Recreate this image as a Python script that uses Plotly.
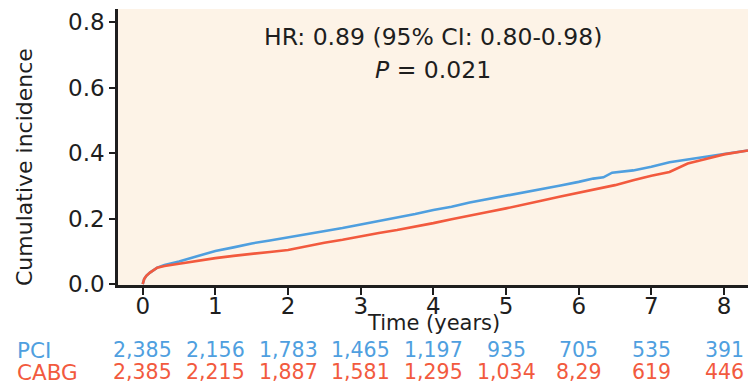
import plotly.graph_objects as go

# Cumulative incidence curves
pci_time = [0, 0.02, 0.05, 0.1, 0.2, 0.3, 0.5, 0.75, 1.0, 1.25, 1.5, 1.75, 2.0, 2.25, 2.5, 2.75,
            3.0, 3.25, 3.5, 3.75, 4.0, 4.25, 4.5, 4.75, 5.0, 5.25, 5.5, 5.75, 6.0, 6.2, 6.34,
            6.46, 6.75, 7.0, 7.25, 7.5, 7.75, 8.0, 8.33]
pci_cum = [0, 0.015, 0.025, 0.035, 0.050, 0.058, 0.069, 0.086, 0.101, 0.112, 0.124, 0.133, 0.142,
           0.151, 0.160, 0.171, 0.182, 0.192, 0.202, 0.214, 0.226, 0.236, 0.249, 0.259, 0.269,
           0.280, 0.291, 0.301, 0.312, 0.322, 0.326, 0.340, 0.347, 0.358, 0.372, 0.381, 0.389,
           0.397, 0.408]

cabg_time = [0, 0.02, 0.05, 0.1, 0.2, 0.3, 0.5, 0.75, 1.0, 1.25, 1.5, 1.75, 2.0, 2.25, 2.5, 2.75,
             3.0, 3.25, 3.5, 3.75, 4.0, 4.25, 4.5, 4.75, 5.0, 5.25, 5.5, 5.75, 6.0, 6.25, 6.5,
             6.75, 7.0, 7.25, 7.35, 7.5, 7.75, 8.0, 8.33]
cabg_cum = [0, 0.015, 0.025, 0.035, 0.050, 0.055, 0.062, 0.071, 0.079, 0.086, 0.093, 0.098, 0.104,
            0.116, 0.126, 0.135, 0.146, 0.156, 0.165, 0.175, 0.186, 0.198, 0.210, 0.220, 0.231,
            0.244, 0.255, 0.267, 0.278, 0.290, 0.302, 0.317, 0.331, 0.342, 0.352, 0.368, 0.382,
            0.396, 0.408]

# Numbers at risk
risk_times = [0, 1, 2, 3, 4, 5, 6, 7, 8]
pci_risk = ["2,385", "2,156", "1,783", "1,465", "1,197", "935", "705", "535", "391"]
cabg_risk = ["2,385", "2,215", "1,887", "1,581", "1,295", "1,034", "8,29", "619", "446"]

x_ticks = [0, 1, 2, 3, 4, 5, 6, 7, 8]
y_ticks = [0.0, 0.2, 0.4, 0.6, 0.8]

BLUE = "#4f9fdf"
RED = "#f25a3e"
FONT = "DejaVu Sans"
TXT = "#1e1e1e"

fig = go.Figure()
fig.add_trace(go.Scatter(x=pci_time, y=pci_cum, mode="lines",
                         line=dict(color=BLUE, width=2.6), name="PCI"))
fig.add_trace(go.Scatter(x=cabg_time, y=cabg_cum, mode="lines",
                         line=dict(color=RED, width=2.6), name="CABG"))

fig.update_layout(
    width=749, height=385,
    margin=dict(l=118, r=1, t=9, b=100),
    paper_bgcolor="white",
    plot_bgcolor="#fdf3e7",
    showlegend=False,
    font=dict(family=FONT, size=21, color=TXT),
)
fig.update_xaxes(range=[-0.34, 8.33], tickvals=x_ticks, ticks="outside", ticklen=7,
                 tickwidth=2, tickcolor=TXT, showline=True, linecolor=TXT, linewidth=2.5,
                 showgrid=False, zeroline=False, tickfont=dict(size=23, color=TXT),
                 ticklabelstandoff=-8)
fig.update_yaxes(range=[-0.003, 0.84], tickvals=y_ticks, tickformat=".1f", ticks="outside",
                 ticklen=6, tickwidth=2, tickcolor=TXT, showline=True, linecolor=TXT,
                 linewidth=2.5, showgrid=False, zeroline=False, tickfont=dict(size=23, color=TXT))


def py(pix):
    return (285 - pix) / 276.0


ann = []
ann.append(dict(x=4.0, y=py(37), xref="x", yref="paper", text="HR: 0.89 (95% CI: 0.80-0.98)",
                showarrow=False, font=dict(size=23.5, color=TXT), xanchor="center", yanchor="middle"))
ann.append(dict(x=4.0, y=py(70), xref="x", yref="paper", text="<i>P</i> = 0.021",
                showarrow=False, font=dict(size=23.5, color=TXT), xanchor="center", yanchor="middle"))
ann.append(dict(x=4.0, y=py(323), xref="x", yref="paper", text="Time (years)", showarrow=False,
                font=dict(size=21, color=TXT), xanchor="center", yanchor="middle"))
ann.append(dict(x=(24 - 118) / 630.0, y=py(167), xref="paper", yref="paper",
                text="Cumulative incidence", textangle=-90, showarrow=False,
                font=dict(size=22, color=TXT), xanchor="center", yanchor="middle"))
ann.append(dict(x=(15 - 118) / 630.0, y=py(350), xref="paper", yref="paper", text="PCI",
                showarrow=False, font=dict(size=21.5, color=BLUE), xanchor="left", yanchor="middle"))
ann.append(dict(x=(15 - 118) / 630.0, y=py(372), xref="paper", yref="paper", text="CABG",
                showarrow=False, font=dict(size=21.5, color=RED), xanchor="left", yanchor="middle"))
for t, a, b in zip(risk_times, pci_risk, cabg_risk):
    ann.append(dict(x=t, y=py(350), xref="x", yref="paper", text=a, showarrow=False,
                    font=dict(size=20.5, color=BLUE), xanchor="center", yanchor="middle"))
    ann.append(dict(x=t, y=py(372), xref="x", yref="paper", text=b, showarrow=False,
                    font=dict(size=20.5, color=RED), xanchor="center", yanchor="middle"))

fig.update_layout(annotations=ann)
fig.write_html("out.html", config={"displayModeBar": False},
               post_script="document.body.style.margin='0';")
